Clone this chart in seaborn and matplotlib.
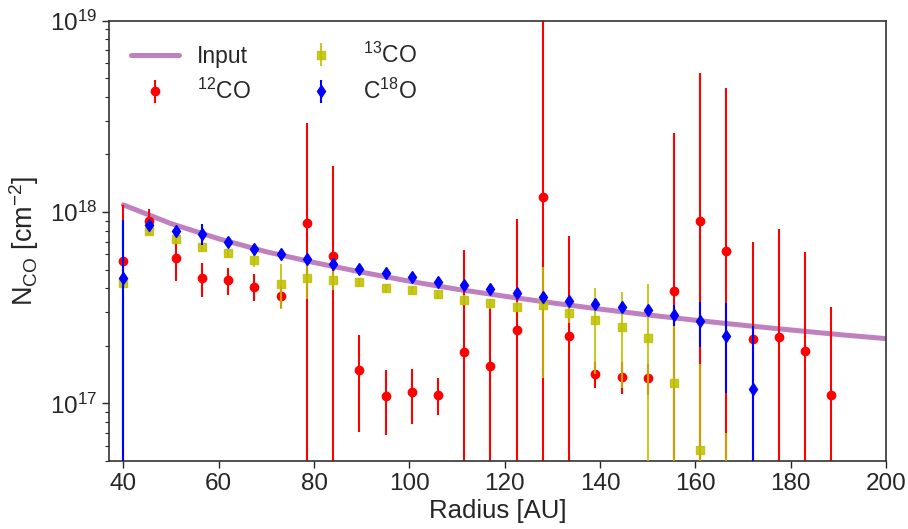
import numpy as np
import pandas as pd
import matplotlib
matplotlib.use("Agg")
import matplotlib.pyplot as plt
import seaborn as sns

# ---------------- data ----------------
input_r = [40, 50, 60, 70, 80, 90, 100, 110, 120, 130, 140, 150, 160, 170, 180, 190, 200]
input_n = [1.09e18, 8.7e17, 7.25e17, 6.2e17, 5.45e17, 4.85e17, 4.35e17, 3.95e17, 3.63e17,
           3.35e17, 3.11e17, 2.9e17, 2.72e17, 2.56e17, 2.42e17, 2.29e17, 2.18e17]

r12 = [40, 45.5, 51, 56.5, 62, 67.5, 73, 78.5, 84, 89.5, 95, 100.5, 106, 111.5,
       117, 122.5, 128, 133.5, 139, 144.5, 150, 155.5, 161, 166.5, 172, 177.5, 183, 188.5]
n12 = [5.57e17, 8.94e17, 5.75e17, 4.5e17, 4.4e17, 4.07e17, 3.66e17, 8.73e17, 5.87e17, 1.49e17,
       1.09e17, 1.15e17, 1.11e17, 1.85e17, 1.57e17, 2.43e17, 1.2e18, 2.24e17, 1.43e17, 1.38e17,
       1.35e17, 3.85e17, 8.94e17, 6.23e17, 2.16e17, 2.22e17, 1.87e17, 1.11e17]
e12 = [5.3e17, 1.4e17, 1.4e17, 9e16, 7e16, 6.5e16, 5e16, 2.03e18, 1.16e18, 7.8e16,
       4.1e16, 3.7e16, 2.4e16, 4.5e17, 1.7e17, 6.8e17, 9.5e18, 5.25e17, 2.2e16, 2.6e16,
       2.5e16, 2.19e18, 4.4e18, 3.8e18, 4.8e17, 5.9e17, 4.3e17, 2.08e17]

r13 = [40, 45.5, 51, 56.5, 62, 67.5, 73, 78.5, 84, 89.5, 95, 100.5, 106, 111.5,
       117, 122.5, 128, 133.5, 139, 144.5, 150, 155.5, 161, 166.5]
n13 = [4.24e17, 7.93e17, 7.2e17, 6.59e17, 6.1e17, 5.59e17, 4.23e17, 4.5e17, 4.4e17, 4.31e17,
       4.03e17, 3.91e17, 3.72e17, 3.47e17, 3.33e17, 3.2e17, 3.25e17, 2.98e17, 2.73e17, 2.5e17,
       2.19e17, 1.28e17, 5.68e16, 3.0e16]
e13 = [2e16, 3e16, 3e16, 3e16, 3e16, 4e16, 1.1e17, 1e17, 5e16, 2e16,
       2e16, 2e16, 2e16, 2e16, 2e16, 2e16, 1.9e17, 3.5e16, 1.3e17, 1.3e17,
       2.04e17, 1.3e17, 1.03e17, 4.0e16]

r18 = [40, 45.5, 51, 56.5, 62, 67.5, 73, 78.5, 84, 89.5, 95, 100.5, 106, 111.5,
       117, 122.5, 128, 133.5, 139, 144.5, 150, 155.5, 161, 166.5, 172]
n18 = [4.52e17, 8.52e17, 7.93e17, 7.71e17, 6.97e17, 6.41e17, 6.07e17, 5.66e17, 5.37e17, 5.06e17,
       4.78e17, 4.56e17, 4.31e17, 4.14e17, 3.95e17, 3.78e17, 3.61e17, 3.43e17, 3.3e17, 3.19e17,
       3.06e17, 2.91e17, 2.68e17, 2.24e17, 1.19e17]
e18 = [4.6e17, 5e16, 3e16, 1e17, 4e16, 3e16, 3e16, 3e16, 3e16, 2e16,
       2e16, 2e16, 2e16, 2e16, 2e16, 2e16, 2e16, 2e16, 2e16, 2e16,
       2e16, 3.6e16, 7.2e16, 1.1e17, 1.34e17]

# ---------------- style ----------------
sns.set_style("ticks")
plt.rcParams['font.family'] = ['Liberation Sans', 'DejaVu Sans']
plt.rcParams['mathtext.fontset'] = 'custom'
plt.rcParams['mathtext.rm'] = 'Liberation Sans'
plt.rcParams['mathtext.it'] = 'Liberation Sans:italic'
plt.rcParams['mathtext.bf'] = 'Liberation Sans:bold'

fig = plt.figure(figsize=(9.08, 5.29), dpi=100)
ax = fig.add_axes([0.120, 0.1285, 0.856, 0.8325])

df_in = pd.DataFrame({"r": input_r, "n": input_n})
sns.lineplot(data=df_in, x="r", y="n", ax=ax, color="#bf80bf", lw=3.6, label="Input", zorder=1)

ax.errorbar(r12, n12, yerr=e12, fmt='o', color='r', ms=6, elinewidth=1.5, label=r'$^{12}$CO', zorder=2)
ax.errorbar(r13, n13, yerr=e13, fmt='s', color='y', ms=6, elinewidth=1.5, alpha=0.85, label=r'$^{13}$CO', zorder=3)
ax.errorbar(r18, n18, yerr=e18, fmt='d', color='b', ms=6, elinewidth=1.5, label=r'C$^{18}$O', zorder=4)

ax.set_yscale('log')
ax.set_xlim(37, 200)
ax.set_ylim(5e16, 1e19)
ax.set_xlabel('Radius [AU]', fontsize=18.5, labelpad=3)
ax.set_ylabel(r'N$_{\rm CO}$ [cm$^{-2}$]', fontsize=19.5, labelpad=6)
ax.tick_params(axis='both', which='major', labelsize=17.5, length=5, width=1)
ax.tick_params(axis='y', which='minor', length=3, width=0.8)
for s in ax.spines.values():
    s.set_color('#333333')
    s.set_linewidth(1.2)

leg = ax.legend(loc='upper left', ncol=2, frameon=False, fontsize=16.5,
                handlelength=2.1, columnspacing=2.0, borderaxespad=0.55)

fig.savefig('out.png', dpi=100)
